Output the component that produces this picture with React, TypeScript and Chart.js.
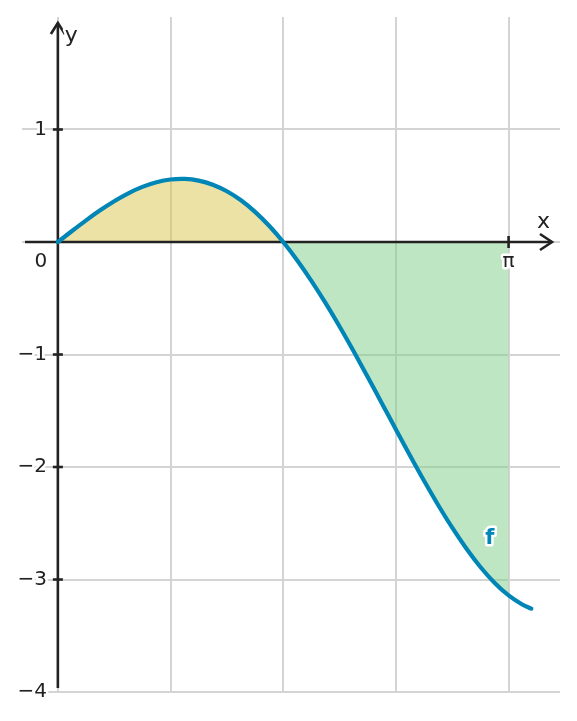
import { useEffect, useRef } from "react"
import { Chart, registerables } from "chart.js"

Chart.register(...registerables)

// curve f(x)
const xValues = [
  0, 0.0982, 0.1963, 0.2945, 0.3927, 0.4909, 0.589, 0.6872, 0.7854, 0.8836, 0.9817, 1.0799,
  1.1781, 1.2763, 1.3744, 1.4726, 1.5708, 1.669, 1.7671, 1.8653, 1.9635, 2.0617, 2.1598,
  2.258, 2.3562, 2.4544, 2.5525, 2.6507, 2.7489, 2.8471, 2.9452, 3.0434, 3.1416, 3.2398, 3.3,
]
const yValues = [
  0, 0.0977, 0.1926, 0.2818, 0.3628, 0.4329, 0.4898, 0.5312, 0.5554, 0.5605, 0.5454, 0.5091,
  0.4508, 0.3705, 0.2681, 0.1444, 0, -0.1636, -0.3448, -0.5415, -0.7514, -0.9719, -1.2,
  -1.4325, -1.6661, -1.8973, -2.1224, -2.3377, -2.5396, -2.7245, -2.8887, -3.0288, -3.1416,
  -3.2242, -3.2587,
]

// limits of the shaded regions
const zeroCrossing = 1.5708
const piValue = 3.1416

// grid and tick positions
const xGridValues = [0, 0.7854, 1.5708, 2.3562, 3.1416]
const yTickValues = [-4, -3, -2, -1, 0, 1]
const yTickLabels = ["\u22124", "\u22123", "\u22122", "\u22121", "0", "1"]

const FONT = "'DejaVu Sans', 'Noto Sans', sans-serif"
const BLUE = "#0086b6"
const AXIS = "#222222"

const points = xValues.map((x, i) => ({ x, y: yValues[i] }))
const positivePart = points.filter((p) => p.x <= zeroCrossing)
const negativePart = points.filter((p) => p.x >= zeroCrossing && p.x <= piValue)

function haloText(ctx: CanvasRenderingContext2D, text: string, x: number, y: number, fill: string) {
  ctx.lineJoin = "round"
  ctx.strokeStyle = "#ffffff"
  ctx.lineWidth = 5
  ctx.strokeText(text, x, y)
  ctx.fillStyle = fill
  ctx.fillText(text, x, y)
}

const axesPlugin = {
  id: "mathAxes",
  beforeDatasetDraw(chart: any, args: any) {
    if (args.index !== 0) return
    const { ctx, chartArea } = chart
    const xs = chart.scales.x
    const ys = chart.scales.y
    const x0 = xs.getPixelForValue(0)
    const y0 = ys.getPixelForValue(0)
    const xEnd = chartArea.right - 8
    const yTop = chartArea.top + 6
    ctx.save()
    ctx.strokeStyle = AXIS
    ctx.lineWidth = 2.6
    ctx.lineCap = "butt"
    // x axis
    ctx.beginPath()
    ctx.moveTo(chartArea.left + 3, y0)
    ctx.lineTo(xEnd, y0)
    ctx.stroke()
    // y axis
    ctx.beginPath()
    ctx.moveTo(x0, chartArea.bottom - 4)
    ctx.lineTo(x0, yTop)
    ctx.stroke()
    // arrow heads
    ctx.lineJoin = "miter"
    ctx.beginPath()
    ctx.moveTo(xEnd - 12, y0 - 8)
    ctx.lineTo(xEnd, y0)
    ctx.lineTo(xEnd - 12, y0 + 8)
    ctx.stroke()
    ctx.beginPath()
    ctx.moveTo(x0 - 7, yTop + 11)
    ctx.lineTo(x0, yTop)
    ctx.lineTo(x0 + 7, yTop + 11)
    ctx.stroke()
    // tick marks
    yTickValues.forEach((v) => {
      if (v === 0 || v === -4) return
      const py = ys.getPixelForValue(v)
      ctx.beginPath()
      ctx.moveTo(x0 - 5, py)
      ctx.lineTo(x0 + 5, py)
      ctx.stroke()
    })
    const px = xs.getPixelForValue(piValue)
    ctx.beginPath()
    ctx.moveTo(px, y0 - 6)
    ctx.lineTo(px, y0 + 6)
    ctx.stroke()
    ctx.restore()
  },
  afterDatasetsDraw(chart: any) {
    const { ctx } = chart
    const xs = chart.scales.x
    const ys = chart.scales.y
    const x0 = xs.getPixelForValue(0)
    const y0 = ys.getPixelForValue(0)
    ctx.save()
    ctx.font = `20px ${FONT}`
    ctx.textBaseline = "middle"
    ctx.textAlign = "right"
    yTickValues.forEach((v, i) => {
      if (v === 0) return
      haloText(ctx, yTickLabels[i], x0 - 11, ys.getPixelForValue(v), "#222222")
    })
    ctx.textAlign = "center"
    haloText(ctx, "0", x0 - 17, y0 + 20, "#222222")
    haloText(ctx, "\u03c0", xs.getPixelForValue(piValue), y0 + 20, "#222222")
    ctx.font = `22px ${FONT}`
    haloText(ctx, "x", xs.getPixelForValue(3.385), y0 - 20, "#222222")
    ctx.textAlign = "left"
    haloText(ctx, "y", x0 + 7, ys.getPixelForValue(1.83), "#222222")
    ctx.textAlign = "center"
    ctx.font = `bold 21px ${FONT}`
    haloText(ctx, "f", xs.getPixelForValue(3.01), ys.getPixelForValue(-2.64), BLUE)
    ctx.restore()
  },
}

export default function App() {
  const chartRef = useRef<HTMLCanvasElement>(null)
  const chartInstance = useRef<Chart | null>(null)

  useEffect(() => {
    if (!chartRef.current) return
    const ctx = chartRef.current.getContext("2d")
    if (!ctx) return
    if (chartInstance.current) chartInstance.current.destroy()

    chartInstance.current = new Chart(ctx, {
      type: "line",
      data: {
        datasets: [
          {
            label: "f",
            data: points,
            borderColor: BLUE,
            borderWidth: 4.2,
            borderCapStyle: "round",
            pointRadius: 0,
            fill: false,
            tension: 0.3,
          },
          {
            label: "positive",
            data: positivePart,
            borderWidth: 0,
            pointRadius: 0,
            backgroundColor: "rgba(219, 197, 75, 0.5)",
            fill: "origin",
            tension: 0.3,
          },
          {
            label: "negative",
            data: negativePart,
            borderWidth: 0,
            pointRadius: 0,
            backgroundColor: "rgba(127, 205, 133, 0.5)",
            fill: "origin",
            tension: 0.3,
          },
        ],
      },
      options: {
        responsive: false,
        animation: false,
        layout: { padding: { left: 22, top: 17, right: 17, bottom: 29 } },
        scales: {
          x: {
            type: "linear",
            min: -0.25,
            max: 3.5,
            afterBuildTicks: (scale: any) => {
              scale.ticks = xGridValues.map((value) => ({ value }))
            },
            ticks: { display: false },
            border: { display: false },
            grid: { color: "#d4d4d4", lineWidth: 2, drawTicks: false },
          },
          y: {
            type: "linear",
            min: -4,
            max: 2,
            ticks: { display: false, stepSize: 1 },
            border: { display: false },
            grid: {
              color: (c: any) => (c.tick && c.tick.value === 2 ? "rgba(0,0,0,0)" : "#d4d4d4"),
              lineWidth: 2,
              drawTicks: false,
            },
          },
        },
        plugins: {
          legend: { display: false },
          tooltip: { enabled: false },
        },
      },
      plugins: [axesPlugin],
    })

    return () => {
      if (chartInstance.current) {
        chartInstance.current.destroy()
        chartInstance.current = null
      }
    }
  }, [])

  return (
    <div style={{ position: "fixed", left: 0, top: 0, width: 577, height: 721, background: "#fff" }}>
      <canvas ref={chartRef} width={577} height={721} />
    </div>
  )
}
